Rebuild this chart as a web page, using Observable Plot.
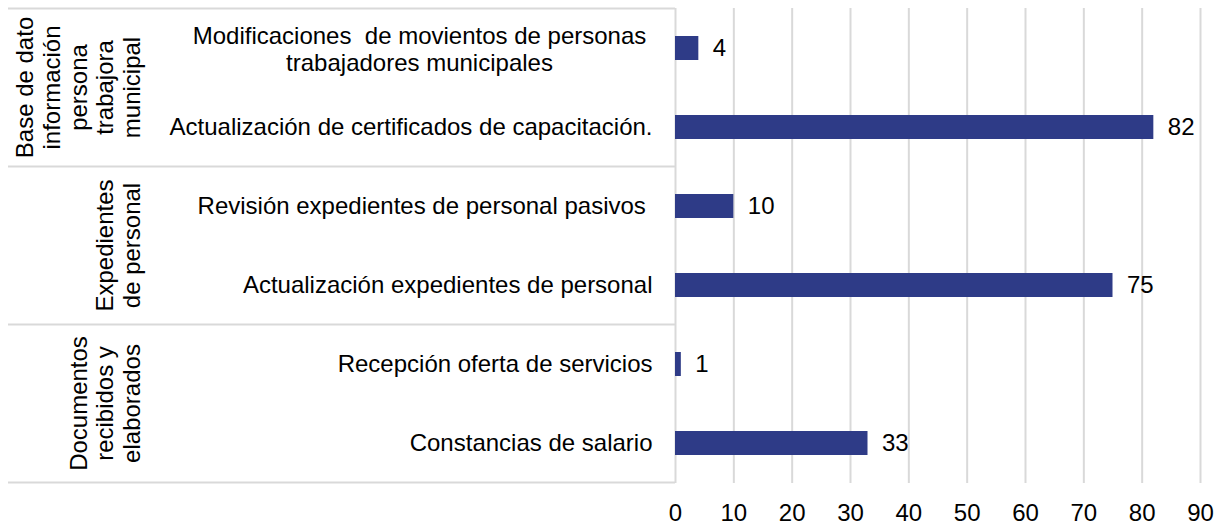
<!DOCTYPE html>
<html>
<head>
<meta charset="utf-8">
<script src="https://cdn.jsdelivr.net/npm/d3@7"></script>
<script src="https://cdn.jsdelivr.net/npm/@observablehq/plot@0.6"></script>
<style>
  body { margin: 0; background: #fff; }
  svg text { white-space: pre; }
</style>
</head>
<body>
<div id="chart"></div>
<script>
const categories = [
  "Modificaciones  de movientos de personas\ntrabajadores municipales",
  "Actualización de certificados de capacitación.",
  "Revisión expedientes de personal pasivos ",
  "Actualización expedientes de personal",
  "Recepción oferta de servicios",
  "Constancias de salario"
];
const values = [4, 82, 10, 75, 1, 33];
const groupLabels = [
  "Base de dato\ninformación\npersona\ntrabajora\nmunicipal",
  "Expedientes\nde personal",
  "Documentos\nrecibidos y\nelaborados"
];
const groupIndex = [0, 0, 1, 1, 2, 2];
const xTicks = [0, 10, 20, 30, 40, 50, 60, 70, 80, 90];

const rows = categories.map((c, i) => ({category: c, value: values[i], group: groupIndex[i], i}));

const FONT = "'Liberation Sans', Arial, sans-serif";
const FS = 24;
const GRID = "#d9d9d9";

const chart = Plot.plot({
  width: 1225,
  height: 525,
  marginLeft: 675,
  marginRight: 25,
  marginTop: 8,
  marginBottom: 42,
  style: {fontFamily: FONT, fontSize: FS + "px", color: "#000", background: "#fff"},
  x: {domain: [0, 90]},
  y: {domain: categories, paddingInner: 0.7, paddingOuter: 0.35, axis: null},
  marks: [
    Plot.gridX(xTicks, {stroke: GRID, strokeOpacity: 1, strokeWidth: 2}),
    Plot.axisX(xTicks, {tickSize: 0, tickPadding: 20, fontSize: FS, fill: "#000", label: null, tickFormat: d => String(d)}),
    Plot.barX(rows, {x: "value", y: "category", fill: "#2E3B87"}),
    Plot.text(rows, {x: "value", y: "category", text: d => String(d.value), textAnchor: "start", dx: 14, fontSize: FS, fill: "#000"}),
    Plot.text(rows.filter(d => d.i === 0), {y: "category", text: "category", frameAnchor: "left", textAnchor: "middle", dx: -256, lineHeight: 1.13, fontSize: FS, fill: "#000"}),
    Plot.text(rows.filter(d => d.i !== 0), {y: "category", text: "category", frameAnchor: "left", textAnchor: "end", dx: -23, fontSize: FS, fill: "#000"})
  ]
});

document.getElementById("chart").appendChild(chart);

// Group separators and rotated group labels, positioned with Plot's y scale
const ys = chart.scale("y");
const bw = ys.bandwidth, st = ys.step;
const svg = d3.select(chart);
const layer = svg.append("g");
const x0 = 8, x1 = 675;
groupLabels.forEach((label, g) => {
  const cats = categories.filter((c, i) => groupIndex[i] === g);
  const yTop = ys.apply(cats[0]) + bw / 2 - st / 2;
  const yBot = ys.apply(cats[cats.length - 1]) + bw / 2 + st / 2;
  layer.append("line").attr("x1", x0).attr("x2", x1).attr("y1", yTop).attr("y2", yTop)
    .attr("stroke", GRID).attr("stroke-width", 2);
  if (g === groupLabels.length - 1) {
    layer.append("line").attr("x1", x0).attr("x2", x1).attr("y1", yBot).attr("y2", yBot)
      .attr("stroke", GRID).attr("stroke-width", 2);
  }
  const cy = (yTop + yBot) / 2;
  const lines = label.split("\n");
  lines.forEach((ln, j) => {
    const bx = 140 - (lines.length - 1 - j) * 26.7;
    layer.append("text")
      .attr("transform", `translate(${bx},${cy}) rotate(-90)`)
      .attr("text-anchor", "middle")
      .attr("font-family", FONT)
      .attr("font-size", FS)
      .attr("fill", "#000")
      .text(ln);
  });
});
</script>
</body>
</html>
